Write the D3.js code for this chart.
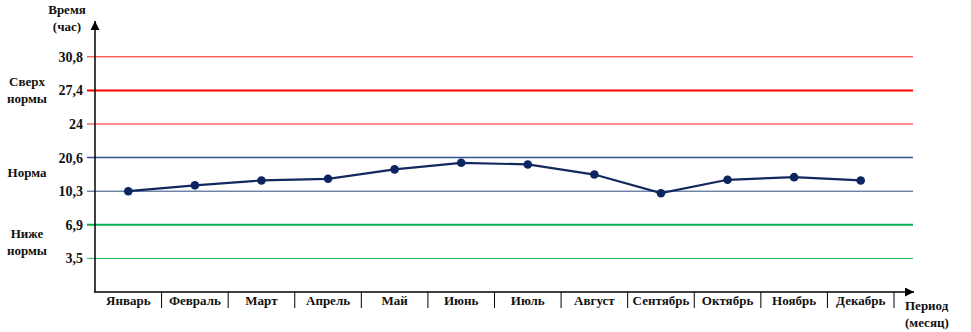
<!DOCTYPE html>
<meta charset="utf-8">
<style>
body{ margin:0; background:#fff; }
</style>
<body>
<svg width="971" height="332"></svg>
<script src="https://d3js.org/d3.v7.min.js"></script>
<script>
var months = ["Январь","Февраль","Март","Апрель","Май","Июнь","Июль","Август","Сентябрь","Октябрь","Ноябрь","Декабрь"];
var hours = [10.3, 12.1, 13.6, 14.1, 17.0, 19.0, 18.5, 15.4, 10.1, 13.8, 14.6, 13.6];
var yTicks = [3.5, 6.9, 10.3, 20.6, 24, 27.4, 30.8];
var zones = [
  {name:["Сверх","нормы"], at:27.4},
  {name:["Норма"], at:16.2},
  {name:["Ниже","нормы"], at:5.2}
];
var levels = [
  {v:30.8, color:"#ff1a1a", w:1},
  {v:27.4, color:"#ff0000", w:2},
  {v:24,   color:"#ff1a1a", w:1},
  {v:20.6, color:"#2f5496", w:1.5},
  {v:10.3, color:"#2f4a80", w:1},
  {v:6.9,  color:"#00b050", w:2},
  {v:3.5,  color:"#1fbf5f", w:1}
];

var svg = d3.select("svg");
var x0 = 95, x1 = 894, yBase = 292;

// ось Y неравномерная: каждая метка на одинаковом шаге
var y = d3.scaleLinear()
  .domain([0].concat(yTicks))
  .range(d3.range(8).map(function(i){ return yBase - i*33.6; }));

var x = d3.scaleBand().domain(months).range([x0, x1]);

function txt(sel, size){
  return sel.style("font-family", "'Liberation Serif'")
    .style("font-size", size + "px").style("font-weight", "bold").style("fill", "#111");
}

// линии уровней
svg.selectAll(".level").data(levels).enter().append("line")
  .attr("x1", 87).attr("x2", 913)
  .attr("y1", d=>y(d.v)).attr("y2", d=>y(d.v))
  .attr("stroke", d=>d.color).attr("stroke-width", d=>d.w);

// подписи оси Y
txt(svg.append("g").selectAll("text").data(yTicks).enter().append("text")
  .attr("x", 83).attr("y", d=>y(d)).attr("dy","0.35em")
  .attr("text-anchor","end").text(d=>String(d).replace(".", ",")), 14);

// зоны
zones.forEach(function(z){
  var t = txt(svg.append("text"), 13).attr("text-anchor","middle")
    .attr("x", 27).attr("y", y(z.at) - (z.name.length-1)*8.5);
  z.name.forEach(function(s, i){
    t.append("tspan").attr("x", 27).attr("dy", i==0 ? "0.35em" : "17").text(s);
  });
});

// оси со стрелками
svg.append("defs").append("marker").attr("id","arr")
  .attr("viewBox","0 0 10 10").attr("refX",10).attr("refY",5)
  .attr("markerWidth",9).attr("markerHeight",9).attr("markerUnits","userSpaceOnUse")
  .attr("orient","auto")
  .append("path").attr("d","M0,0L10,5L0,10z").attr("fill","#000");

svg.append("line").attr("x1",x0).attr("x2",x0).attr("y1",yBase).attr("y2",21)
  .attr("stroke","#000").attr("stroke-width",1.5).attr("marker-end","url(#arr)");
svg.append("line").attr("x1",x0-1).attr("x2",914).attr("y1",yBase).attr("y2",yBase)
  .attr("stroke","#000").attr("stroke-width",1.5).attr("marker-end","url(#arr)");

// разделители месяцев
svg.selectAll(".sep").data(months).enter().append("line")
  .attr("x1", d=>x(d)+x.bandwidth()).attr("x2", d=>x(d)+x.bandwidth())
  .attr("y1", yBase).attr("y2", yBase+16)
  .attr("stroke","#000").attr("stroke-width",1);

txt(svg.selectAll(".month").data(months).enter().append("text"), 13)
  .attr("text-anchor","middle")
  .attr("x", d=>x(d)+x.bandwidth()/2).attr("y", 305).text(d=>d);

// заголовки осей
var ty = txt(svg.append("text"), 13).attr("text-anchor","middle");
ty.append("tspan").attr("x",67).attr("y",14).text("Время");
ty.append("tspan").attr("x",67).attr("y",31).text("(час)");
var tx = txt(svg.append("text"), 13).attr("text-anchor","start");
tx.append("tspan").attr("x",905).attr("y",310).text("Период");
tx.append("tspan").attr("x",905).attr("y",327).text("(месяц)");

// ряд данных
var line = d3.line().x((d,i)=>x(months[i])+x.bandwidth()/2).y(d=>y(d));
svg.append("path").datum(hours).attr("d", line)
  .attr("fill","none").attr("stroke","#13295e").attr("stroke-width",2.2);
svg.selectAll(".pt").data(hours).enter().append("circle")
  .attr("cx",(d,i)=>x(months[i])+x.bandwidth()/2).attr("cy",d=>y(d)).attr("r",4.3)
  .attr("fill","#0b2560");
</script>
</body>
